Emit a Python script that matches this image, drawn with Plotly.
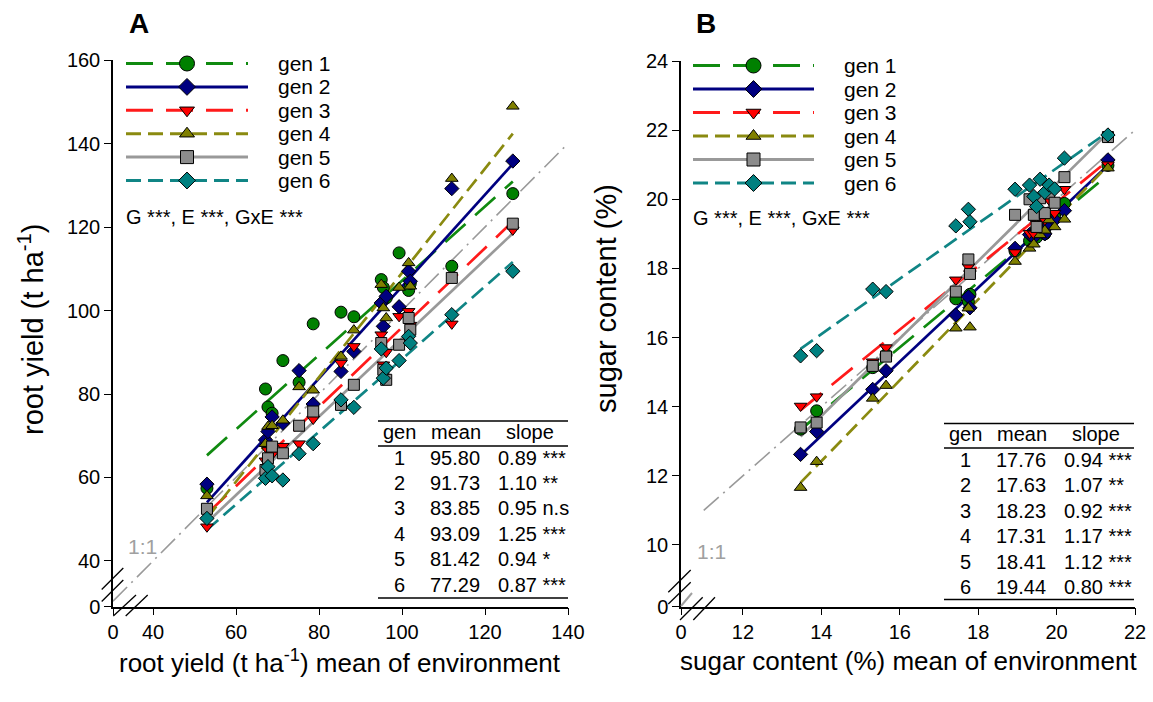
import numpy as np
import plotly.graph_objects as go

W, H = 1153, 702
FONT = "Liberation Sans, Arial, sans-serif"

gens = ["gen 1", "gen 2", "gen 3", "gen 4", "gen 5", "gen 6"]
colors = ["#008000", "#000080", "#ff0000", "#808000", "#8c8c8c", "#008080"]
line_colors = ["#108a10", "#000080", "#ff1a1a", "#8a8a10", "#999999", "#108585"]
symbols = ["circle", "diamond", "triangle-down", "triangle-up", "square", "diamond"]
dashes = ["27px,13px", "solid", "27px,13px", "15px,7px", "solid", "15px,7px"]

# ---------------- Panel A: root yield ----------------
env_root = [53.0, 67.1, 67.7, 68.7, 71.3, 75.2, 78.6, 85.3, 88.4, 95.0, 95.5, 96.2,
            99.3, 101.6, 102.0, 112.0, 126.7]
root_g1 = [57.4, 81.2, 76.9, 75.4, 88.0, 82.8, 96.8, 99.6, 98.5, 107.4, 105.5, 103.0,
           113.8, 104.8, 106.5, 110.6, 128.0]
root_g2 = [58.4, 69.0, 71.0, 74.5, 73.0, 85.6, 77.6, 85.4, 90.2, 101.8, 96.2, 103.4,
           100.9, 109.4, 107.0, 129.2, 135.8]
root_g3 = [48.2, 64.0, 66.5, 65.5, 67.5, 68.1, 74.0, 87.4, 91.4, 94.2, 87.0, 90.0,
           98.6, 99.8, 96.5, 96.8, 119.3]
root_g4 = [55.6, 68.1, 72.2, 72.4, 73.7, 81.7, 80.9, 89.0, 95.3, 106.2, 100.6, 98.2,
           105.5, 111.4, 105.8, 131.6, 148.9]
root_g5 = [52.5, 61.8, 64.6, 67.4, 65.8, 72.4, 75.8, 77.4, 82.2, 92.2, 85.8, 83.4,
           91.8, 98.2, 95.4, 107.8, 120.8]
root_g6 = [50.2, 59.8, 62.6, 60.4, 59.4, 65.7, 68.1, 78.6, 76.8, 90.8, 83.8, 86.2,
           88.0, 93.8, 92.2, 99.0, 109.4]
root_mean = [95.80, 91.73, 83.85, 93.09, 81.42, 77.29]
root_slope = [0.89, 1.10, 0.95, 1.25, 0.94, 0.87]
root_sig = ["***", "**", "n.s", "***", "*", "***"]

# ---------------- Panel B: sugar content ----------------
env_sugar = [13.47, 13.88, 15.31, 15.65, 17.43, 17.75, 17.79, 18.94, 19.31, 19.42,
             19.49, 19.58, 19.70, 19.81, 19.95, 20.20, 21.31]
sugar_g1 = [13.35, 13.88, 15.13, 15.50, 17.12, 17.04, 17.25, 18.50, 18.80, 18.92,
            18.90, 19.10, 19.00, 19.30, 19.50, 19.88, 20.98]
sugar_g2 = [12.62, 13.28, 14.50, 15.04, 16.65, 17.18, 16.86, 18.58, 18.98, 18.90,
            19.10, 19.20, 19.00, 19.26, 19.40, 19.67, 21.14]
sugar_g3 = [14.02, 14.29, 15.30, 15.71, 17.67, 18.05, 17.85, 18.46, 19.02, 19.00,
            19.30, 19.10, 19.40, 19.98, 19.60, 20.29, 21.00]
sugar_g4 = [11.66, 12.41, 14.24, 14.61, 16.27, 16.85, 16.30, 18.20, 18.58, 18.70,
            19.26, 18.97, 19.10, 19.40, 19.20, 19.42, 20.90]
sugar_g5 = [13.40, 13.54, 15.18, 15.45, 17.33, 18.26, 17.84, 19.55, 20.00, 19.55,
            19.20, 20.03, 19.60, 20.17, 19.90, 20.64, 21.80]
sugar_g6 = [15.47, 15.62, 17.40, 17.33, 19.23, 19.71, 19.35, 20.29, 20.41, 20.08,
            19.79, 20.58, 20.20, 20.41, 20.30, 21.19, 21.86]
sugar_mean = [17.76, 17.63, 18.23, 17.31, 18.41, 19.44]
sugar_slope = [0.94, 1.07, 0.92, 1.17, 1.12, 0.80]
sugar_sig = ["***", "**", "***", "***", "***", "***"]

root_vals = [root_g1, root_g2, root_g3, root_g4, root_g5, root_g6]
sugar_vals = [sugar_g1, sugar_g2, sugar_g3, sugar_g4, sugar_g5, sugar_g6]

ROOT_X = [30.36, 140]
ROOT_Y = [29.1, 160]
SUGAR_X = [10.42, 22]
SUGAR_Y = [8.22, 24.0]
ONE_ROOT = [30.36, 140]
ONE_SUGAR = [11.0, 22.2]


def fx(px):
    return px / W


def fy(py):
    return 1 - py / H


fig = go.Figure()


def add_panel(env, vals, means, slopes, xa, ya, one):
    env = np.array(env, dtype=float)
    xm = env.mean()
    fig.add_trace(go.Scatter(x=one, y=one, mode="lines", xaxis=xa, yaxis=ya,
                             line=dict(color="#9a9a9a", width=1.6, dash="20px,6px,2px,6px"),
                             showlegend=False, hoverinfo="skip"))
    xl = np.array([env.min(), env.max()])
    for i in range(6):
        yl = means[i] + slopes[i] * (xl - xm)
        fig.add_trace(go.Scatter(x=xl, y=yl, mode="lines", xaxis=xa, yaxis=ya,
                                 line=dict(color=line_colors[i], width=2.7, dash=dashes[i]),
                                 showlegend=False, hoverinfo="skip"))
    for i in range(6):
        sz = {"circle": 12, "diamond": 11}.get(symbols[i], 11)
        fig.add_trace(go.Scatter(x=env, y=vals[i], mode="markers", xaxis=xa, yaxis=ya,
                                 marker=dict(symbol=symbols[i], size=sz, color=colors[i],
                                             line=dict(color="black", width=1)),
                                 showlegend=False, hoverinfo="skip"))


add_panel(env_root, root_vals, root_mean, root_slope, "x", "y", ONE_ROOT)
add_panel(env_sugar, sugar_vals, sugar_mean, sugar_slope, "x2", "y2", ONE_SUGAR)

annotations = []
shapes = []


def pt(txt, x, y, size=20, xanchor="center", color="black", bold=False, angle=0):
    annotations.append(dict(text=("<b>%s</b>" % txt) if bold else txt, x=x, y=y,
                            xref="x3", yref="y3", showarrow=False, xanchor=xanchor,
                            yanchor="middle", textangle=angle,
                            font=dict(family=FONT, size=size, color=color)))


def seg(x0, y0, x1, y1, color="black", width=1.5):
    shapes.append(dict(type="line", xref="x3", yref="y3", x0=x0, y0=y0, x1=x1, y1=y1,
                       line=dict(color=color, width=width)))


def legend(xl0, xl1, xmk, xtxt, y0, dy):
    for i in range(6):
        yy = y0 + dy * i
        fig.add_trace(go.Scatter(x=[xl0, xl1], y=[yy, yy], mode="lines", xaxis="x3", yaxis="y3",
                                 line=dict(color=line_colors[i], width=3, dash=dashes[i]),
                                 showlegend=False, hoverinfo="skip"))
        fig.add_trace(go.Scatter(x=[xmk], y=[yy], mode="markers", xaxis="x3", yaxis="y3",
                                 marker=dict(symbol=symbols[i], size=15 if symbols[i] == "circle" else 13,
                                             color=colors[i], line=dict(color="black", width=1)),
                                 showlegend=False, hoverinfo="skip"))
        pt(gens[i], xtxt, yy, size=21, xanchor="left")


legend(126, 248, 187, 276, 63.5, 23.4)
legend(693, 814, 753.5, 842, 65.5, 23.5)

pt("G ***, E ***, GxE ***", 124, 217, size=20, xanchor="left")
pt("G ***, E ***, GxE ***", 691, 218, size=20, xanchor="left")

pt("A", 139, 23, size=28, bold=True)
pt("B", 706, 23, size=28, bold=True)

pt("1:1", 142, 546, size=21, color="#a0a0a0")
pt("1:1", 711, 551, size=21, color="#a0a0a0")

pt("root yield (t ha<sup>-1</sup>)", 31, 330, size=29, angle=-90)
pt("root yield (t ha<sup>-1</sup>) mean of environment", 340, 661, size=26)
pt("sugar content (%)", 606, 299, size=29, angle=-90)
pt("sugar content (%) mean of environment", 908, 661, size=26)


def table(x0, x1, ytop, yh, yline, yrow0, dyrow, ybot, xgen, xmean_c, xmean_r, xslope_c, xslope_l,
          means, slopes, sigs):
    seg(x0, ytop, x1, ytop, width=1.6)
    seg(x0, yline, x1, yline, width=1.6)
    seg(x0, ybot, x1, ybot, width=1.6)
    pt("gen", xgen, yh, size=20)
    pt("mean", xmean_c, yh, size=20)
    pt("slope", xslope_c, yh, size=20)
    for i in range(6):
        yy = yrow0 + dyrow * i
        pt(str(i + 1), xgen, yy, size=20)
        pt("%.2f" % means[i], xmean_r, yy, size=20, xanchor="right")
        pt("%.2f %s" % (slopes[i], sigs[i]), xslope_l, yy, size=20, xanchor="left")


table(378, 568, 421, 432, 446, 457.5, 25.4, 598, 399.5, 456, 482, 530, 495.5,
      root_mean, root_slope, root_sig)
table(944, 1134, 423.5, 434, 448, 460, 25.4, 599.5, 965, 1022, 1048, 1096, 1061.5,
      sugar_mean, sugar_slope, sugar_sig)

for (a, b, c, d) in [(101.7, 589.5, 123.3, 568), (101.7, 601.5, 123.3, 580),
                     (113.3, 616, 136, 595), (125.7, 616, 147.7, 595),
                     (668.3, 592.3, 690.7, 570), (668.3, 604, 690.7, 582.3),
                     (680, 620, 702.7, 597.3), (693.3, 620, 715, 597.3)]:
    seg(a, b, c, d, width=1.3)
seg(681, 606, 692, 593, color="#a0a0a0", width=2)


def ticks(lo, vals):
    return [lo] + vals, ["0"] + [str(v) for v in vals]


axis_common = dict(showgrid=False, zeroline=False, showline=True, linecolor="black",
                   linewidth=1.5, ticks="outside", ticklen=7, tickwidth=1.3, automargin=False,
                   tickcolor="black", tickfont=dict(family=FONT, size=20, color="black"))

rx_tv, rx_tt = ticks(ROOT_X[0], [40, 60, 80, 100, 120, 140])
ry_tv, ry_tt = ticks(ROOT_Y[0], [40, 60, 80, 100, 120, 140, 160])
sx_tv, sx_tt = ticks(SUGAR_X[0], [12, 14, 16, 18, 20, 22])
sy_tv, sy_tt = ticks(SUGAR_Y[0], [10, 12, 14, 16, 18, 20, 22, 24])

fig.update_layout(
    template="none",
    width=W, height=H, margin=dict(l=0, r=0, t=0, b=0, autoexpand=False),
    paper_bgcolor="white", plot_bgcolor="rgba(0,0,0,0)", showlegend=False,
    xaxis=dict(domain=[fx(113), fx(568)], range=ROOT_X, tickvals=rx_tv, ticktext=rx_tt,
               anchor="y", **axis_common),
    yaxis=dict(domain=[fy(606.5), fy(60)], range=ROOT_Y, tickvals=ry_tv, ticktext=ry_tt,
               anchor="x", **axis_common),
    xaxis2=dict(domain=[fx(681), fx(1135)], range=SUGAR_X, tickvals=sx_tv, ticktext=sx_tt,
                anchor="y2", **axis_common),
    yaxis2=dict(domain=[fy(606.5), fy(61)], range=SUGAR_Y, tickvals=sy_tv, ticktext=sy_tt,
                anchor="x2", **axis_common),
    xaxis3=dict(domain=[0, 1], range=[0, W], visible=False, anchor="y3", fixedrange=True),
    yaxis3=dict(domain=[0, 1], range=[H, 0], visible=False, anchor="x3", fixedrange=True),
    annotations=annotations, shapes=shapes,
    font=dict(family=FONT),
)

fig.write_html("out.html", config={"displayModeBar": False})
